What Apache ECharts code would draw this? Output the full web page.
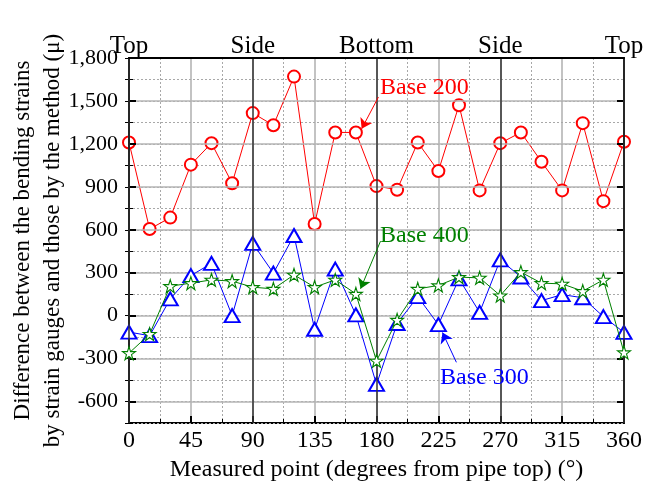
<!DOCTYPE html>
<html>
<head>
<meta charset="utf-8">
<script src="https://cdn.jsdelivr.net/npm/echarts@6/dist/echarts.min.js"></script>
<style>html,body{margin:0;padding:0;background:#fff}#c{width:646px;height:484px}</style>
</head>
<body>
<div id="c"></div>
<script>
const angles = [0,15,30,45,60,75,90,105,120,135,150,165,180,195,210,225,240,255,270,285,300,315,330,345,360];
const base200 = [1210,605,685,1055,1205,925,1415,1330,1670,640,1280,1280,905,880,1210,1010,1470,875,1205,1280,1075,875,1345,800,1215];
const base300 = [-115,-140,117,280,365,0,505,297,560,-95,325,5,-480,-55,133,-63,257,23,390,270,105,147,125,-7,-117];
const base400 = [-262,-129,206,227,250,241,199,187,285,199,250,152,-316,-30,187,211,269,264,140,304,227,222,171,250,-257];
const yTicks = [-600,-300,0,300,600,900,1200,1500,1800];
const topLabels = {0:'Top',90:'Side',180:'Bottom',270:'Side',360:'Top'};
const yMin = -750, yMax = 1800;

const FONT = '"Liberation Serif", "Times New Roman", serif';
const pairs = arr => angles.map((a,i)=>[a,arr[i]]);
const fmt = v => v.toLocaleString('en-US');
const STAR = 'path://M50,2 L61.5,37 L98,37 L68.5,58.5 L79.5,94 L50,72 L20.5,94 L31.5,58.5 L2,37 L38.5,37 Z';

const chart = echarts.init(document.getElementById('c'), null, {renderer:'canvas'});
const yCommon = {type:'value', min:yMin, max:yMax, scale:false};
const arrowLine = (color, from, to) => ({silent:true, z:10, symbol:['none','arrow'], symbolSize:10,
  label:{show:false}, lineStyle:{color:color, width:1, type:'solid'}, itemStyle:{color:color},
  data:[[{coord:from},{coord:to}]]});
chart.setOption({
  animation:false,
  backgroundColor:'#fff',
  grid:{left:129, right:22, top:58, bottom:61, containLabel:false, outerBoundsMode:'none'},
  xAxis:[
    {type:'value', min:0, max:360, interval:45, position:'bottom',
     axisLine:{show:true, onZero:false, lineStyle:{color:'#000', width:2}},
     axisTick:{show:true, inside:true, length:7, lineStyle:{color:'#000', width:2}},
     minorTick:{show:true, splitNumber:2, length:4, lineStyle:{color:'#000', width:1}},
     splitLine:{show:true, lineStyle:{color:'#b4b4b4', width:1.6}},
     minorSplitLine:{show:true, lineStyle:{color:'#a8a8a8', width:1, type:[2,2]}},
     axisLabel:{color:'#000', fontFamily:FONT, fontSize:24, margin:6},
     name:'Measured point (degrees from pipe top) (°)', nameLocation:'middle', nameGap:35,
     nameMoveOverlap:false,
     nameTextStyle:{color:'#000', fontFamily:FONT, fontSize:24}},
    {type:'value', min:0, max:360, interval:90, position:'top', z:5,
     axisLine:{show:true, onZero:false, lineStyle:{color:'#000', width:2}},
     axisTick:{show:false},
     splitLine:{show:true, lineStyle:{color:'#333', width:1.5}},
     axisLabel:{color:'#000', fontFamily:FONT, fontSize:25, margin:-1,
       formatter: v => topLabels[v] || ''}}
  ],
  yAxis:[
    Object.assign({}, yCommon, {position:'left', z:4,
     axisLine:{show:true, onZero:false, lineStyle:{color:'#000', width:2}},
     axisTick:{show:true, inside:true, length:7, customValues:yTicks, lineStyle:{color:'#000', width:2}},
     splitLine:{show:true, lineStyle:{color:'#b4b4b4', width:1.6}},
     axisLabel:{show:true, customValues:yTicks, color:'#000', fontFamily:FONT, fontSize:22, margin:11, formatter: v => fmt(v)},
     name:'Difference between the bending strains\nby strain gauges and those by the method (μ)',
     nameLocation:'middle', nameGap:61, nameRotate:90, nameMoveOverlap:false,
     nameTextStyle:{color:'#000', fontFamily:FONT, fontSize:23, lineHeight:30}}),
    Object.assign({}, yCommon, {position:'left', interval:150, z:2,
     axisLine:{show:false}, axisLabel:{show:false},
     axisTick:{show:true, inside:true, length:4, lineStyle:{color:'#000', width:1}},
     splitLine:{show:true, lineStyle:{color:'#a8a8a8', width:1, type:[2,2]}}}),
    Object.assign({}, yCommon, {position:'right', z:4,
     axisLine:{show:true, onZero:false, lineStyle:{color:'#000', width:2}},
     axisTick:{show:true, inside:true, length:7, customValues:yTicks, lineStyle:{color:'#000', width:2}},
     splitLine:{show:false}, axisLabel:{show:false}}),
    Object.assign({}, yCommon, {position:'right', interval:150, z:2,
     axisLine:{show:false}, axisLabel:{show:false},
     axisTick:{show:true, inside:true, length:4, lineStyle:{color:'#000', width:1}},
     splitLine:{show:false}})
  ],
  series:[
    {name:'Base 200', type:'line', data:pairs(base200), z:3,
     symbol:'emptyCircle', symbolSize:12, showAllSymbol:true,
     lineStyle:{color:'#ff0000', width:1}, itemStyle:{color:'#ff0000', borderWidth:1.2},
     markLine:arrowLine('#ff0000',[181.4,1527],[169.2,1305])},
    {name:'Base 300', type:'line', data:pairs(base300), z:4,
     symbol:'emptyTriangle', symbolSize:[15,13], showAllSymbol:true,
     lineStyle:{color:'#0000ff', width:1}, itemStyle:{color:'#0000ff', borderWidth:1.2},
     markLine:arrowLine('#0000ff',[238.1,-326],[228.0,-118])},
    {name:'Base 400', type:'line', data:pairs(base400), z:5,
     symbol:STAR, symbolSize:13, showAllSymbol:true,
     lineStyle:{color:'#008000', width:1}, itemStyle:{color:'#ffffff', borderColor:'#008000', borderWidth:1.1},
     markLine:arrowLine('#008000',[182.9,520],[168.4,188])}
  ],
  graphic:[
    {type:'text', left:380, top:76, z:100, style:{text:'Base 200', fill:'#ff0000', font:'24px "Liberation Serif"'}},
    {type:'text', left:380, top:224, z:100, style:{text:'Base 400', fill:'#008000', font:'24px "Liberation Serif"'}},
    {type:'text', left:440, top:366, z:100, style:{text:'Base 300', fill:'#0000ff', font:'24px "Liberation Serif"'}}
  ]
});
</script>
</body>
</html>
